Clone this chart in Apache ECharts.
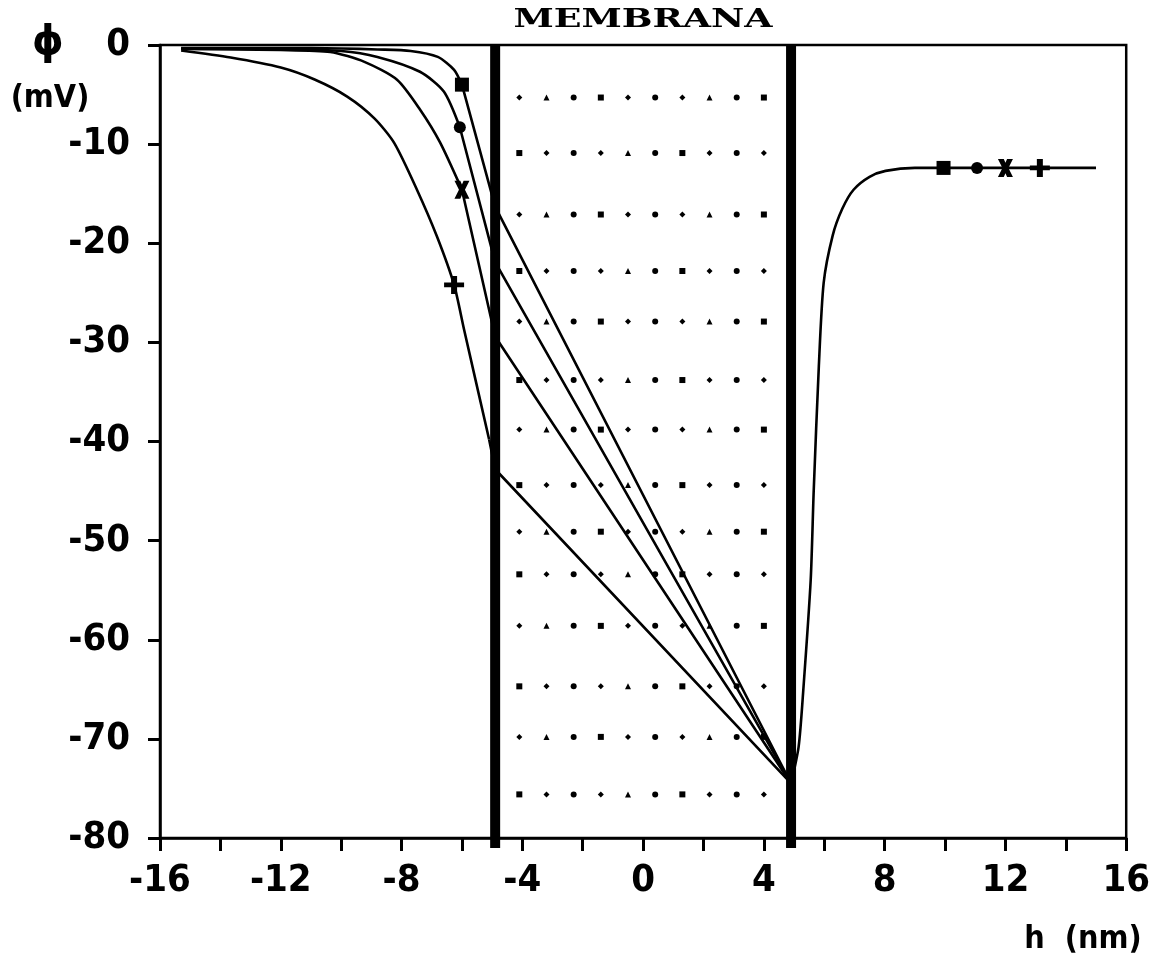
<!DOCTYPE html>
<html>
<head>
<meta charset="utf-8">
<script src="https://cdn.jsdelivr.net/npm/echarts@6/dist/echarts.min.js"></script>
<style>
html,body{margin:0;padding:0;background:#fff;}
#chart{width:1153px;height:972px;}
</style>
</head>
<body>
<div id="chart"></div>
<script>
// ---- data ----
const xTickMin = -16, xTickMax = 16, xTickStep = 2, xLabelStep = 4;
const yTickMin = -80, yTickMax = 0, yTickStep = 10;

// membrane walls (nm)
const wallX = [-4.9, 4.9];

// curve "square"  (outside part, last point on the wall)
const sqX = [-15.3, -12, -10, -8.8, -7.7, -6.8, -6.26, -6.0, -4.9];
const sqY = [-0.3, -0.3, -0.35, -0.45, -0.6, -1.2, -2.5, -4.0, -16.3];
// curve "circle"
const ciX = [-15.3, -12, -10, -8.8, -7.39, -6.6, -6.07, -4.9];
const ciY = [-0.35, -0.4, -0.6, -1.2, -2.7, -4.7, -8.3, -21.9];
// curve "x"
const xxX = [-15.3, -12, -10.36, -9.23, -8.15, -7.39, -6.73, -6.0, -4.9];
const xxY = [-0.4, -0.5, -0.7, -1.7, -3.5, -6.5, -9.8, -14.6, -29.4];
// curve "plus"
const plX = [-15.3, -13.66, -12, -10.88, -9.8, -8.9, -8.24, -7.49, -6.83, -6.26, -5.93, -5.1, -4.9];
const plY = [-0.55, -1.26, -2.27, -3.48, -5.2, -7.4, -9.9, -14.6, -19.3, -24.2, -28.7, -39.8, -42.8];
// inside the membrane every curve runs straight to this point
const innerEndX = 4.9, innerEndY = -74.5;
// common curve on the right side
const rX = [4.9, 5.15, 5.3, 5.55, 5.65, 5.82, 5.98, 6.28, 6.6, 6.97, 7.5, 8.03, 9.0, 10, 12, 15];
const rY = [-74.5, -70.8, -65.3, -54, -45, -32.4, -24, -19.2, -16.5, -14.6, -13.3, -12.7, -12.4, -12.4, -12.4, -12.4];

// markers (square, circle, x, plus)
const leftMarkX = [-6.0, -6.07, -6.0, -6.26];
const leftMarkY = [-4.0, -8.3, -14.6, -24.2];
const rightMarkX = [9.95, 11.06, 12.0, 13.14];
const rightMarkY = [-12.4, -12.4, -12.4, -12.4];

// dotted pattern inside the membrane
const dotCols = [-4.1, -3.2, -2.3, -1.4, -0.5, 0.4, 1.3, 2.2, 3.1, 4.0];
const dotRows = [-5.3, -10.9, -17.1, -22.8, -27.9, -33.8, -38.8, -44.4, -49.1, -53.4, -58.6, -64.7, -69.8, -75.6];

// ---- chart ----
const FONT = "'Liberation Sans Narrow', 'DejaVu Sans Condensed', 'Liberation Sans', sans-serif";
const symX = 'path://M0,0 L3.9,0 L5,2.3 L6.1,0 L10,0 L7,5.5 L10,11 L6.1,11 L5,8.7 L3.9,11 L0,11 L3,5.5 Z';
const symPlus = 'path://M3.5,0 H6.5 V4 H10 V7 H6.5 V11 H3.5 V7 H0 V4 H3.5 Z';
const markSymbols = ['rect', 'circle', symX, symPlus];
const markSizes = [[14, 14], [12, 12], [15, 18], [20, 18]];

function pairs(xs, ys) { return xs.map((x, i) => [x, ys[i]]); }

const lineBase = { type: 'line', symbol: 'none', lineStyle: { color: '#000', width: 2.6 }, z: 3, animation: false };
const series = [];

[[sqX, sqY], [ciX, ciY], [xxX, xxY], [plX, plY]].forEach(([xs, ys]) => {
  const n = xs.length;
  // smooth outer part up to the marker region
  series.push(Object.assign({}, lineBase, { smooth: 0.25, data: pairs(xs.slice(0, n - 1), ys.slice(0, n - 1)) }));
  // straight part: last outer point -> wall -> across membrane
  series.push(Object.assign({}, lineBase, { smooth: false,
    data: [[xs[n - 2], ys[n - 2]], [xs[n - 1], ys[n - 1]], [innerEndX, innerEndY]] }));
});
series.push(Object.assign({}, lineBase, { smooth: 0.25, data: pairs(rX, rY) }));

// walls
wallX.forEach(w => {
  series.push({
    type: 'line', symbol: 'none', clip: false, z: 4, animation: false,
    lineStyle: { color: '#000', width: 10, cap: 'butt' },
    data: [[w, yTickMax], [w, yTickMin - 1]]
  });
});

// markers
const markData = [];
leftMarkX.forEach((x, i) => markData.push({ value: [x, leftMarkY[i]], symbol: markSymbols[i], symbolSize: markSizes[i] }));
rightMarkX.forEach((x, i) => markData.push({ value: [x, rightMarkY[i]], symbol: markSymbols[i], symbolSize: markSizes[i] }));
series.push({
  type: 'scatter', z: 6, animation: false,
  itemStyle: { color: '#000', opacity: 1 },
  data: markData
});

// dots
const dotShapes = ['diamond', 'triangle', 'circle', 'rect', 'diamond', 'circle'];
const dotData = [];
dotRows.forEach((y, r) => dotCols.forEach((x, c) => {
  dotData.push({ value: [x, y], symbol: dotShapes[(r * 3 + c) % dotShapes.length] });
}));
series.push({
  type: 'scatter', z: 2, animation: false, symbolSize: 6,
  itemStyle: { color: '#000', opacity: 1 },
  data: dotData
});

const chart = echarts.init(document.getElementById('chart'), null, { renderer: 'canvas' });
chart.setOption({
  animation: false,
  backgroundColor: '#fff',
  grid: { left: 160, right: 21, top: 45, bottom: 134, show: true, borderColor: '#000', borderWidth: 2.5, backgroundColor: 'transparent' },
  xAxis: {
    type: 'value', min: xTickMin, max: xTickMax, interval: xTickStep,
    splitLine: { show: false },
    axisLine: { show: true, onZero: false, lineStyle: { color: '#000', width: 2.5 } },
    axisTick: { show: true, inside: false, length: 13, lineStyle: { color: '#000', width: 3 } },
    axisLabel: {
      margin: 24, color: '#000', fontFamily: FONT, fontWeight: 'bold', fontSize: 38,
      formatter: v => (Math.round(v) % xLabelStep === 0 ? String(v) : '')
    }
  },
  yAxis: {
    type: 'value', min: yTickMin, max: yTickMax, interval: yTickStep,
    splitLine: { show: false },
    axisLine: { show: true, onZero: false, lineStyle: { color: '#000', width: 2.5 } },
    axisTick: { show: true, inside: false, length: 12, lineStyle: { color: '#000', width: 3 } },
    axisLabel: { margin: 30, color: '#000', fontFamily: FONT, fontWeight: 'bold', fontSize: 38 }
  },
  graphic: [
    { type: 'text', x: 643, y: 20, scaleX: 1.4, z: 10,
      style: { text: 'MEMBRANA', x: 0, y: 0, textAlign: 'center', textVerticalAlign: 'middle', fill: '#000',
               font: "bold 26px 'DejaVu Serif', 'Liberation Serif', serif" } },
    { type: 'text', x: 48, y: 44, z: 10,
      style: { text: 'ϕ', x: 0, y: 0, textAlign: 'center', textVerticalAlign: 'middle', fill: '#000',
               font: "bold 40px 'DejaVu Sans', sans-serif" } },
    { type: 'text', x: 50, y: 99, z: 10,
      style: { text: '(mV)', x: 0, y: 0, textAlign: 'center', textVerticalAlign: 'middle', fill: '#000',
               font: "bold 32px " + FONT } },
    { type: 'text', x: 1083, y: 940, z: 10,
      style: { text: 'h  (nm)', x: 0, y: 0, textAlign: 'center', textVerticalAlign: 'middle', fill: '#000',
               font: "bold 32px " + FONT } }
  ],
  series: series
});
</script>
</body>
</html>
